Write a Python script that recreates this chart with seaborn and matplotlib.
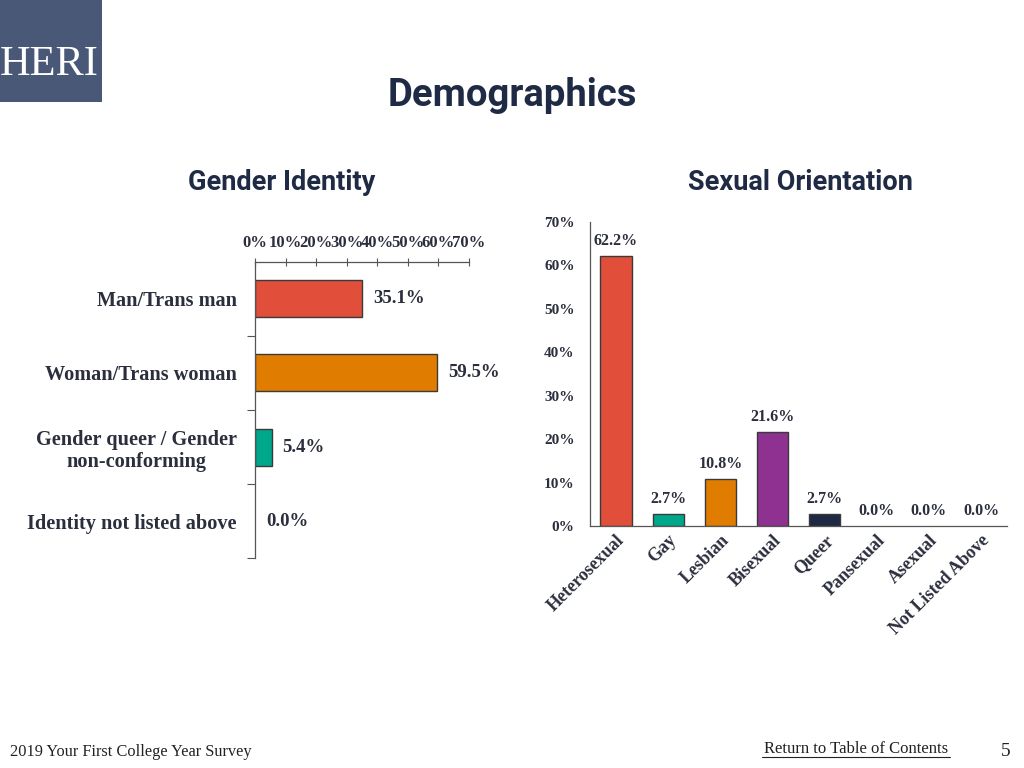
import matplotlib
matplotlib.use("Agg")
import matplotlib.pyplot as plt
import seaborn as sns
import pandas as pd
from matplotlib.patches import Rectangle
from matplotlib.lines import Line2D
from matplotlib.ticker import FixedLocator

# ---- data ----
gender_cats = ["Man/Trans man", "Woman/Trans woman",
               "Gender queer / Gender\nnon-conforming", "Identity not listed above"]
gender_vals = [35.1, 59.5, 5.4, 0.0]
gender_colors = ["#E14E3A", "#E07C00", "#00A88B", "#1E2A44"]

orient_cats = ["Heterosexual", "Gay", "Lesbian", "Bisexual", "Queer",
               "Pansexual", "Asexual", "Not Listed Above"]
orient_vals = [62.2, 2.7, 10.8, 21.6, 2.7, 0.0, 0.0, 0.0]
orient_colors = ["#E14E3A", "#00A88B", "#E07C00", "#8E3190", "#1E2A44",
                 "#1E2A44", "#1E2A44", "#1E2A44"]

pct_ticks = [0, 10, 20, 30, 40, 50, 60, 70]
pct_labels = [f"{t}%" for t in pct_ticks]

sns.set_theme(style="white")
plt.rcParams["font.family"] = ["Liberation Serif", "DejaVu Serif"]

TXT = "#2B2E3C"
NAVY = "#1F2A44"

fig = plt.figure(figsize=(10.24, 7.68), dpi=100)
W, H = 1024, 768

def fx(px):
    return px / W

def fy(py):
    return 1 - py / H

# ---- logo ----
fig.patches.append(Rectangle((0, fy(102)), fx(102), 102 / H, transform=fig.transFigure,
                             facecolor="#4A5878", edgecolor="none", zorder=0))
fig.text(fx(49), fy(65), "HERI", color="white", fontsize=30.5, ha="center", va="center",
         family=["Liberation Serif"])

# ---- titles ----
fig.text(fx(512), fy(95), "Demographics", fontsize=27.5, fontweight="bold", color=NAVY,
         ha="center", va="center", family=["Roboto", "DejaVu Sans"])
fig.text(fx(282), fy(183), "Gender Identity", fontsize=19.5, fontweight="bold", color=NAVY,
         ha="center", va="center", family=["Roboto", "DejaVu Sans"])
fig.text(fx(800), fy(183), "Sexual Orientation", fontsize=19.5, fontweight="bold", color=NAVY,
         ha="center", va="center", family=["Roboto", "DejaVu Sans"])

# ---- left chart ----
ax1 = fig.add_axes([fx(255), fy(558), fx(469) - fx(255), (558 - 262) / H])
df1 = pd.DataFrame({"cat": gender_cats, "val": gender_vals})
sns.barplot(data=df1, x="val", y="cat", hue="cat", palette=gender_colors, orient="h",
            width=0.5, saturation=1, edgecolor="#3A3A3A", linewidth=1.0, legend=False, ax=ax1)
for p in ax1.patches:
    if p.get_width() == 0:
        p.set_visible(False)
ax1.set_xlim(0, 70)
ax1.set_ylim(3.5, -0.5)
ax1.xaxis.tick_top()
ax1.set_xticks(pct_ticks)
ax1.set_xticklabels(pct_labels, fontsize=12, fontweight="bold", color=TXT)
ax1.tick_params(axis="x", top=True, direction="inout", length=6, width=0.8, color="#555555", pad=5)
ax1.set_xlabel("")
ax1.set_ylabel("")
ax1.tick_params(axis="y", which="major", left=False, length=0, pad=13)
for lab in ax1.get_yticklabels():
    lab.set_fontsize(14.6)
    lab.set_fontweight("bold")
    lab.set_color(TXT)
    lab.set_multialignment("center")
ax1.yaxis.set_minor_locator(FixedLocator([0.5, 1.5, 2.5, 3.5]))
ax1.tick_params(axis="y", which="minor", left=True, length=6, width=0.8, color="#555555")
for s in ["right", "bottom"]:
    ax1.spines[s].set_visible(False)
for s in ["left", "top"]:
    ax1.spines[s].set_color("#555555")
    ax1.spines[s].set_linewidth(0.9)
ax1.grid(False)
for i, v in enumerate(gender_vals):
    ax1.annotate(f"{v:.1f}%", xy=(v, i), xytext=(8, 0), textcoords="offset points",
                 ha="left", va="center", fontsize=13.5, fontweight="bold", color=TXT)

# ---- right chart ----
ax2 = fig.add_axes([fx(590), fy(526), fx(1007) - fx(590), (526 - 222) / H])
df2 = pd.DataFrame({"cat": orient_cats, "val": orient_vals})
sns.barplot(data=df2, x="cat", y="val", hue="cat", palette=orient_colors, saturation=1,
            width=0.6, edgecolor="#3A3A3A", linewidth=1.0, legend=False, ax=ax2)
for p in ax2.patches:
    if p.get_height() == 0:
        p.set_visible(False)
ax2.set_xlim(-0.5, 7.5)
ax2.set_ylim(0, 70)
ax2.set_yticks(pct_ticks)
ax2.set_yticklabels(pct_labels, fontsize=11, fontweight="bold", color=TXT)
ax2.tick_params(axis="y", left=False, length=0, pad=11)
ax2.tick_params(axis="x", bottom=False, length=0, pad=4)
ax2.set_xlabel("")
ax2.set_ylabel("")
ax2.set_xticks(range(len(orient_cats)))
ax2.set_xticklabels(orient_cats, rotation=45, ha="right", va="top", rotation_mode="anchor",
                    fontsize=13, fontweight="bold", color=TXT)
for s in ["right", "top"]:
    ax2.spines[s].set_visible(False)
for s in ["left", "bottom"]:
    ax2.spines[s].set_color("#555555")
    ax2.spines[s].set_linewidth(0.9)
ax2.grid(False)
for i, v in enumerate(orient_vals):
    ax2.annotate(f"{v:.1f}%", xy=(i, v), xytext=(0, 11), textcoords="offset points",
                 ha="center", va="center", fontsize=11.5, fontweight="bold", color=TXT)

# ---- footer ----
fig.text(fx(10), fy(752), "2019 Your First College Year Survey", fontsize=11.8, color="#222222",
         ha="left", va="center")
fig.text(fx(856), fy(749), "Return to Table of Contents", fontsize=12, color="#222222",
         ha="center", va="center")
fig.add_artist(Line2D([fx(762), fx(950)], [fy(757), fy(757)], transform=fig.transFigure,
                      color="#222222", linewidth=0.8))
fig.text(fx(1006), fy(751), "5", fontsize=14, color="#222222", ha="center", va="center")

fig.savefig("out.png", dpi=100)
